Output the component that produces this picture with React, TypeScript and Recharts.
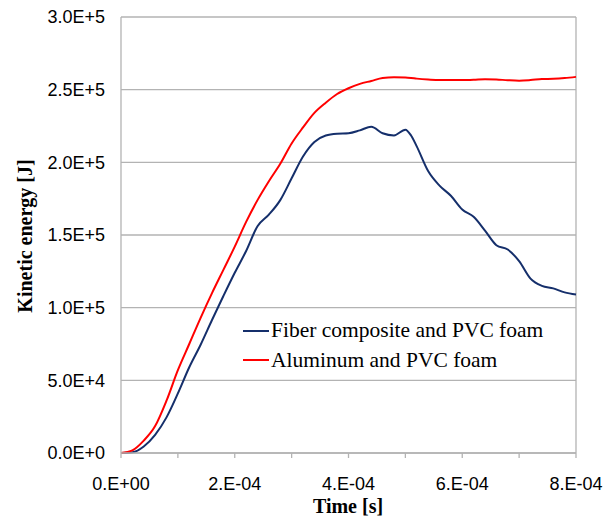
import {
  CartesianGrid,
  Label,
  Legend,
  Line,
  LineChart,
  ReferenceLine,
  XAxis,
  YAxis,
} from 'recharts'

const times = [
  0, 2e-5, 4e-5, 6e-5, 8e-5, 1e-4, 1.2e-4, 1.4e-4, 1.6e-4, 1.8e-4, 2e-4, 2.2e-4,
  2.4e-4, 2.6e-4, 2.8e-4, 3e-4, 3.2e-4, 3.4e-4, 3.6e-4, 3.8e-4, 4e-4, 4.2e-4,
  4.4e-4, 4.6e-4, 4.8e-4, 5e-4, 5.1e-4, 5.2e-4, 5.4e-4, 5.6e-4, 5.8e-4, 6e-4,
  6.2e-4, 6.4e-4, 6.6e-4, 6.8e-4, 7e-4, 7.2e-4, 7.4e-4, 7.6e-4, 7.8e-4, 8e-4,
]

const fiberComposite = [
  0, 500, 4500, 12500, 24500, 41000, 59000, 74500, 91500, 108000, 124000, 139000,
  156000, 164000, 174000, 189000, 204000, 214000, 218500, 219700, 220000, 222000,
  224500, 220000, 218500, 222500, 218500, 211000, 194000, 184000, 177000, 167500,
  162500, 153000, 143000, 140000, 132000, 120000, 115000, 113300, 110500, 109000,
]

const aluminum = [
  0, 1800, 8500, 18500, 36000, 57000, 75000, 93000, 110000, 126000, 142000, 159000,
  174000, 187000, 199000, 213000, 224000, 234000, 241000, 247000, 251000, 254000,
  256000, 258000, 258500, 258300, 258000, 257600, 257000, 256600, 256600, 256600,
  256800, 257200, 257000, 256500, 256200, 256600, 257300, 257500, 258000, 258800,
]

const seriesNames = ['Fiber composite and PVC foam', 'Aluminum and PVC foam']
const seriesColors = ['#152f6b', '#ff0000']

const xTicks = [0, 1e-4, 2e-4, 3e-4, 4e-4, 5e-4, 6e-4, 7e-4, 8e-4]
const yTicks = [0, 5e4, 1e5, 1.5e5, 2e5, 2.5e5, 3e5]

const data = times.map((t, i) => ({
  t,
  fiber: fiberComposite[i],
  alu: aluminum[i],
}))

const formatX = (v: number) => {
  const n = Math.round(v / 1e-4)
  if (n % 2 !== 0) return ''
  if (n === 0) return '0.E+00'
  return `${n}.E-04`
}

const formatY = (v: number) => {
  if (v === 0) return '0.0E+0'
  const e = Math.floor(Math.log10(v) + 1e-9)
  const m = v / Math.pow(10, e)
  return `${m.toFixed(1)}E+${e}`
}

const tickStyle = { fontFamily: '"Liberation Sans", Arial, sans-serif', fontSize: 18, fill: '#000' }
const titleFont = '"Liberation Serif", "Times New Roman", serif'

const renderLegend = () => (
  <div style={{ fontFamily: titleFont, fontSize: 21.5, color: '#000', lineHeight: '29.5px' }}>
    {seriesNames.map((name, i) => (
      <div key={name} style={{ display: 'flex', alignItems: 'center', whiteSpace: 'nowrap' }}>
        <span
          style={{
            display: 'inline-block',
            width: 26,
            height: 2,
            background: seriesColors[i],
            marginRight: 2,
          }}
        />
        {name}
      </div>
    ))}
  </div>
)

export default function App() {
  return (
    <div style={{ position: 'absolute', left: 0, top: 0, background: '#fff' }}>
      <LineChart
        width={603}
        height={520}
        data={data}
        margin={{ top: 17, right: 27, left: 0, bottom: 0 }}
      >
        <CartesianGrid vertical={false} stroke="#b3b3b3" strokeWidth={1.3} />
        <ReferenceLine x={8e-4} stroke="#b3b3b3" strokeWidth={1.3} />
        <XAxis
          dataKey="t"
          type="number"
          domain={[0, 8e-4]}
          ticks={xTicks}
          tickFormatter={formatX}
          interval={0}
          height={67}
          stroke="#b3b3b3"
          strokeWidth={1.3}
          tickSize={5}
          tickMargin={19}
          tick={tickStyle}
        >
          <Label
            content={() => (
              <text
                x={348}
                y={513}
                textAnchor="middle"
                fontFamily={titleFont}
                fontWeight="bold"
                fontSize={20}
                fill="#000"
              >
                Time [s]
              </text>
            )}
          />
        </XAxis>
        <YAxis
          type="number"
          domain={[0, 3e5]}
          ticks={yTicks}
          tickFormatter={formatY}
          interval={0}
          width={121}
          stroke="#b3b3b3"
          strokeWidth={1.3}
          tickLine={false}
          tickSize={0}
          tickMargin={16}
          tick={tickStyle}
        >
          <Label
            content={() => (
              <text
                x={25}
                y={236}
                transform="rotate(-90 25 236)"
                textAnchor="middle"
                dominantBaseline="central"
                fontFamily={titleFont}
                fontWeight="bold"
                fontSize={20}
                fill="#000"
              >
                Kinetic energy [J]
              </text>
            )}
          />
        </YAxis>
        <Legend
          layout="vertical"
          align="center"
          verticalAlign="middle"
          content={renderLegend}
          wrapperStyle={{ left: 243, top: 316, width: 330 }}
        />
        <Line
          type="monotone"
          dataKey="fiber"
          name={seriesNames[0]}
          stroke={seriesColors[0]}
          strokeWidth={2}
          dot={false}
          isAnimationActive={false}
        />
        <Line
          type="monotone"
          dataKey="alu"
          name={seriesNames[1]}
          stroke={seriesColors[1]}
          strokeWidth={2}
          dot={false}
          isAnimationActive={false}
        />
      </LineChart>
    </div>
  )
}
